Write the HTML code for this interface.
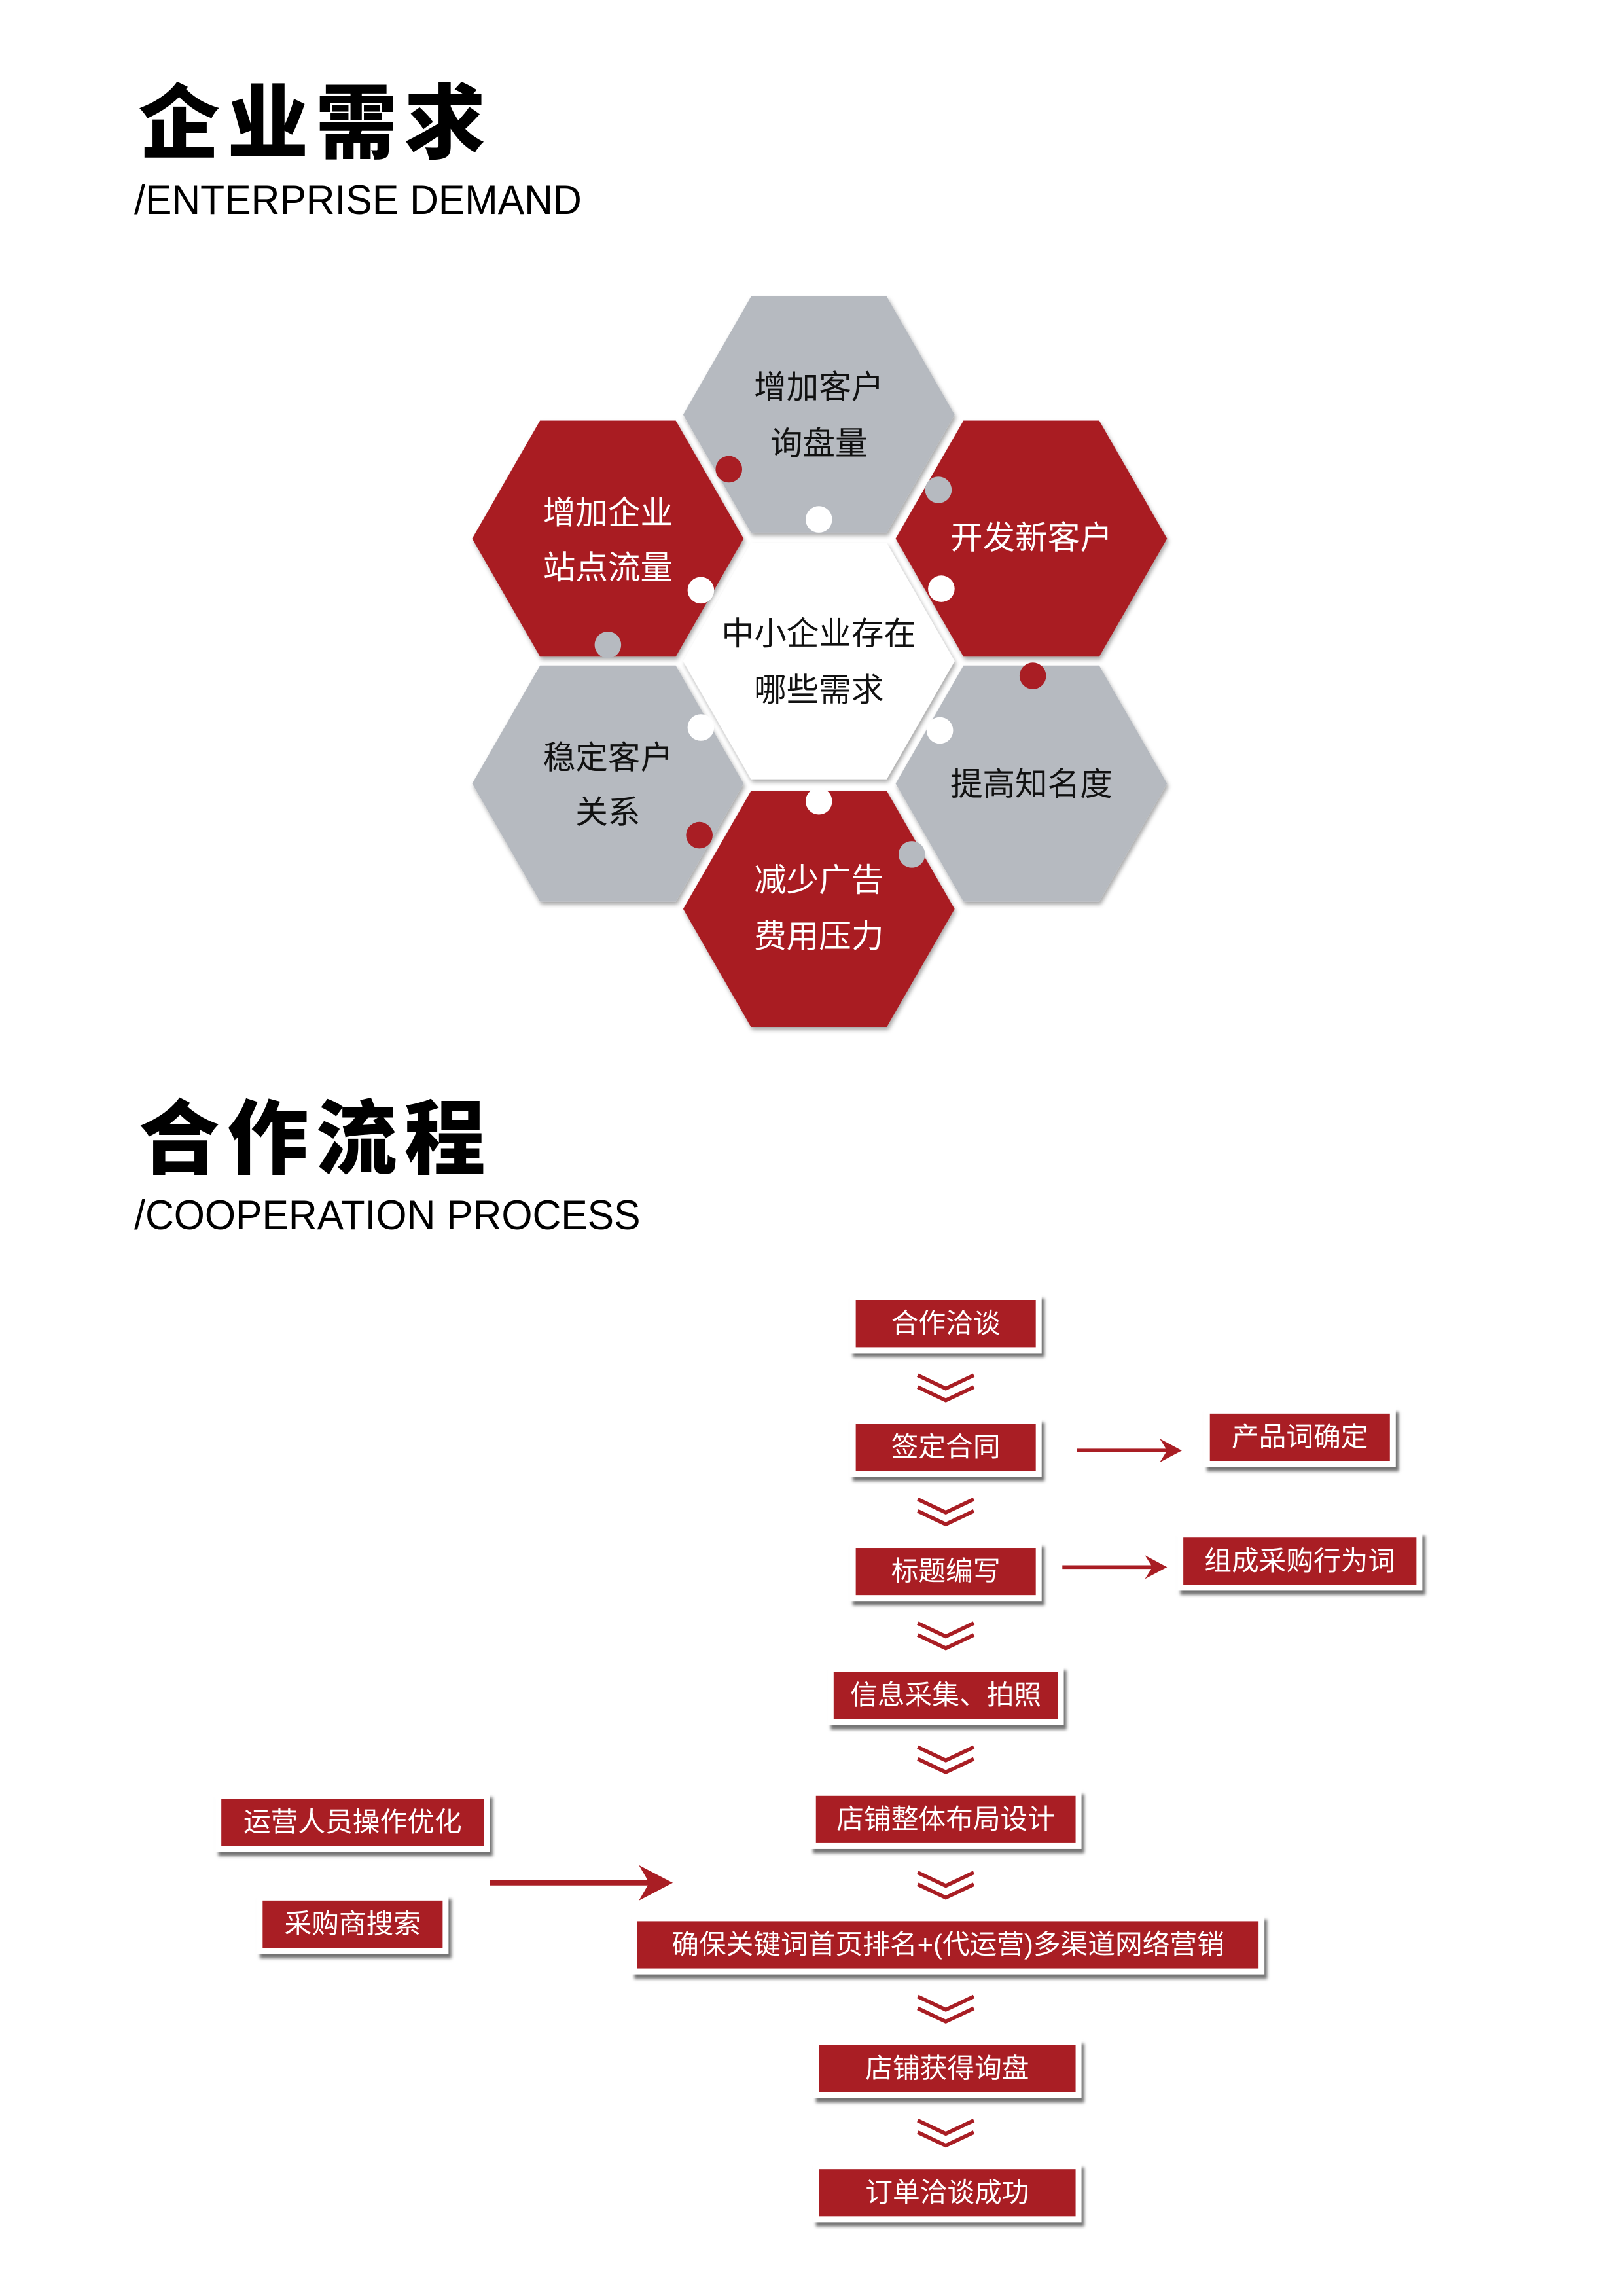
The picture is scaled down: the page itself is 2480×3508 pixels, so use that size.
<!DOCTYPE html>
<html><head><meta charset="utf-8">
<style>
html,body{margin:0;padding:0;background:#fff;}
body{width:2480px;height:3508px;overflow:hidden;position:relative;}
#w{position:absolute;left:0;top:0;width:1100px;height:1556px;transform:scale(2.254545);transform-origin:0 0;font-family:"Liberation Sans","Noto Sans CJK SC",sans-serif;}
.t{position:absolute;font-weight:900;font-size:55px;letter-spacing:5px;color:#000;line-height:1;}
.s{position:absolute;font-size:28px;color:#000;line-height:1;transform:scaleX(0.96);transform-origin:0 0;}
.b{position:absolute;background:#fff;box-shadow:2px 3px 2px rgba(0,0,0,.55);padding:4px;}
.b div{background:#a91e24;color:#fff;font-size:18.5px;text-align:center;height:32px;line-height:32px;white-space:nowrap;}
.ar{position:absolute;}
</style></head><body><div id="w">
<div class="t" style="left:94px;top:57px;">企业需求</div>
<div class="s" style="left:91px;top:122px;">/ENTERPRISE DEMAND</div>

<svg style="position:absolute;left:0;top:0" width="1100" height="760">
<defs>
<filter id="sh" x="-10%" y="-10%" width="120%" height="120%"><feDropShadow dx="1" dy="2" stdDeviation="1.5" flood-color="#000" flood-opacity="0.35"/></filter>
<polygon id="hx" points="-92,0 -46,-80 46,-80 92,0 46,80 -46,80"/>
</defs>
<g filter="url(#sh)">
<use href="#hx" x="555" y="281" fill="#b6bac0"/>
<use href="#hx" x="412" y="365" fill="#a91e24"/>
<use href="#hx" x="699" y="365" fill="#a91e24"/>
<use href="#hx" x="412" y="531" fill="#b6bac0"/>
<use href="#hx" x="699" y="531" fill="#b6bac0"/>
<use href="#hx" x="555" y="616" fill="#a91e24"/>
<use href="#hx" x="555" y="448" fill="#fff"/>
</g>
<circle cx="494" cy="318" r="9" fill="#a91e24"/>
<circle cx="555" cy="352" r="9" fill="#fff"/>
<circle cx="636" cy="332" r="9" fill="#b6bac0"/>
<circle cx="638" cy="399" r="9" fill="#fff"/>
<circle cx="475" cy="400" r="9" fill="#fff"/>
<circle cx="412" cy="437" r="9" fill="#b6bac0"/>
<circle cx="700" cy="458" r="9" fill="#a91e24"/>
<circle cx="475" cy="493" r="9" fill="#fff"/>
<circle cx="637" cy="495" r="9" fill="#fff"/>
<circle cx="555" cy="543" r="9" fill="#fff"/>
<circle cx="474" cy="566" r="9" fill="#a91e24"/>
<circle cx="618" cy="579" r="9" fill="#b6bac0"/>
<g font-family="Liberation Sans,Noto Sans CJK SC,sans-serif" font-size="22" text-anchor="middle">
<text x="555" y="270" fill="#111">增加客户</text><text x="555" y="308" fill="#111">询盘量</text>
<text x="412" y="355" fill="#fff">增加企业</text><text x="412" y="392" fill="#fff">站点流量</text>
<text x="699" y="372" fill="#fff">开发新客户</text>
<text x="555" y="437" fill="#111">中小企业存在</text><text x="555" y="475" fill="#111">哪些需求</text>
<text x="412" y="521" fill="#111">稳定客户</text><text x="412" y="558" fill="#111">关系</text>
<text x="699" y="539" fill="#111">提高知名度</text>
<text x="555" y="604" fill="#fff">减少广告</text><text x="555" y="642" fill="#fff">费用压力</text>
</g>
</svg>

<div class="t" style="left:94px;top:745px;">合作流程</div>
<div class="s" style="left:91px;top:810px;">/COOPERATION PROCESS</div>

<div class="b" style="left:576px;top:877px;width:122px"><div>合作洽谈</div></div>
<div class="b" style="left:576px;top:961px;width:122px"><div>签定合同</div></div>
<div class="b" style="left:576px;top:1045px;width:122px"><div>标题编写</div></div>
<div class="b" style="left:561px;top:1129px;width:152px"><div>信息采集、拍照</div></div>
<div class="b" style="left:549px;top:1213px;width:176px"><div>店铺整体布局设计</div></div>
<div class="b" style="left:428px;top:1298px;width:421px"><div>确保关键词首页排名+(代运营)多渠道网络营销</div></div>
<div class="b" style="left:551px;top:1382px;width:174px"><div>店铺获得询盘</div></div>
<div class="b" style="left:551px;top:1466px;width:174px"><div>订单洽谈成功</div></div>
<div class="b" style="left:816px;top:954px;width:122px"><div>产品词确定</div></div>
<div class="b" style="left:798px;top:1038px;width:158px"><div>组成采购行为词</div></div>
<div class="b" style="left:146px;top:1215px;width:178px"><div>运营人员操作优化</div></div>
<div class="b" style="left:174px;top:1284px;width:122px"><div>采购商搜索</div></div>

<svg style="position:absolute;left:0;top:0" width="1100" height="1556">
<g fill="none" stroke="#a91e24" stroke-width="2.6">
<path d="M622 932 L641 941 L660 932 M622 940 L641 949 L660 940"/>
<path d="M622 1016 L641 1025 L660 1016 M622 1024 L641 1033 L660 1024"/>
<path d="M622 1100 L641 1109 L660 1100 M622 1108 L641 1117 L660 1108"/>
<path d="M622 1184 L641 1193 L660 1184 M622 1192 L641 1201 L660 1192"/>
<path d="M622 1269 L641 1278 L660 1269 M622 1277 L641 1286 L660 1277"/>
<path d="M622 1353 L641 1362 L660 1353 M622 1361 L641 1370 L660 1361"/>
<path d="M622 1437 L641 1446 L660 1437 M622 1445 L641 1454 L660 1445"/>
</g>
<g stroke="#a91e24" fill="#a91e24">
<line x1="730" y1="983" x2="796" y2="983" stroke-width="2.5"/>
<path d="M786 975 L801 983 L786 991 L791 983Z" stroke="none"/>
<line x1="720" y1="1062" x2="786" y2="1062" stroke-width="2.5"/>
<path d="M776 1054 L791 1062 L776 1070 L781 1062Z" stroke="none"/>
<line x1="332" y1="1276" x2="446" y2="1276" stroke-width="3.5"/>
<path d="M433 1264 L456 1276 L433 1288 L440 1276Z" stroke="none"/>
</g>
</svg>
</div></body></html>
